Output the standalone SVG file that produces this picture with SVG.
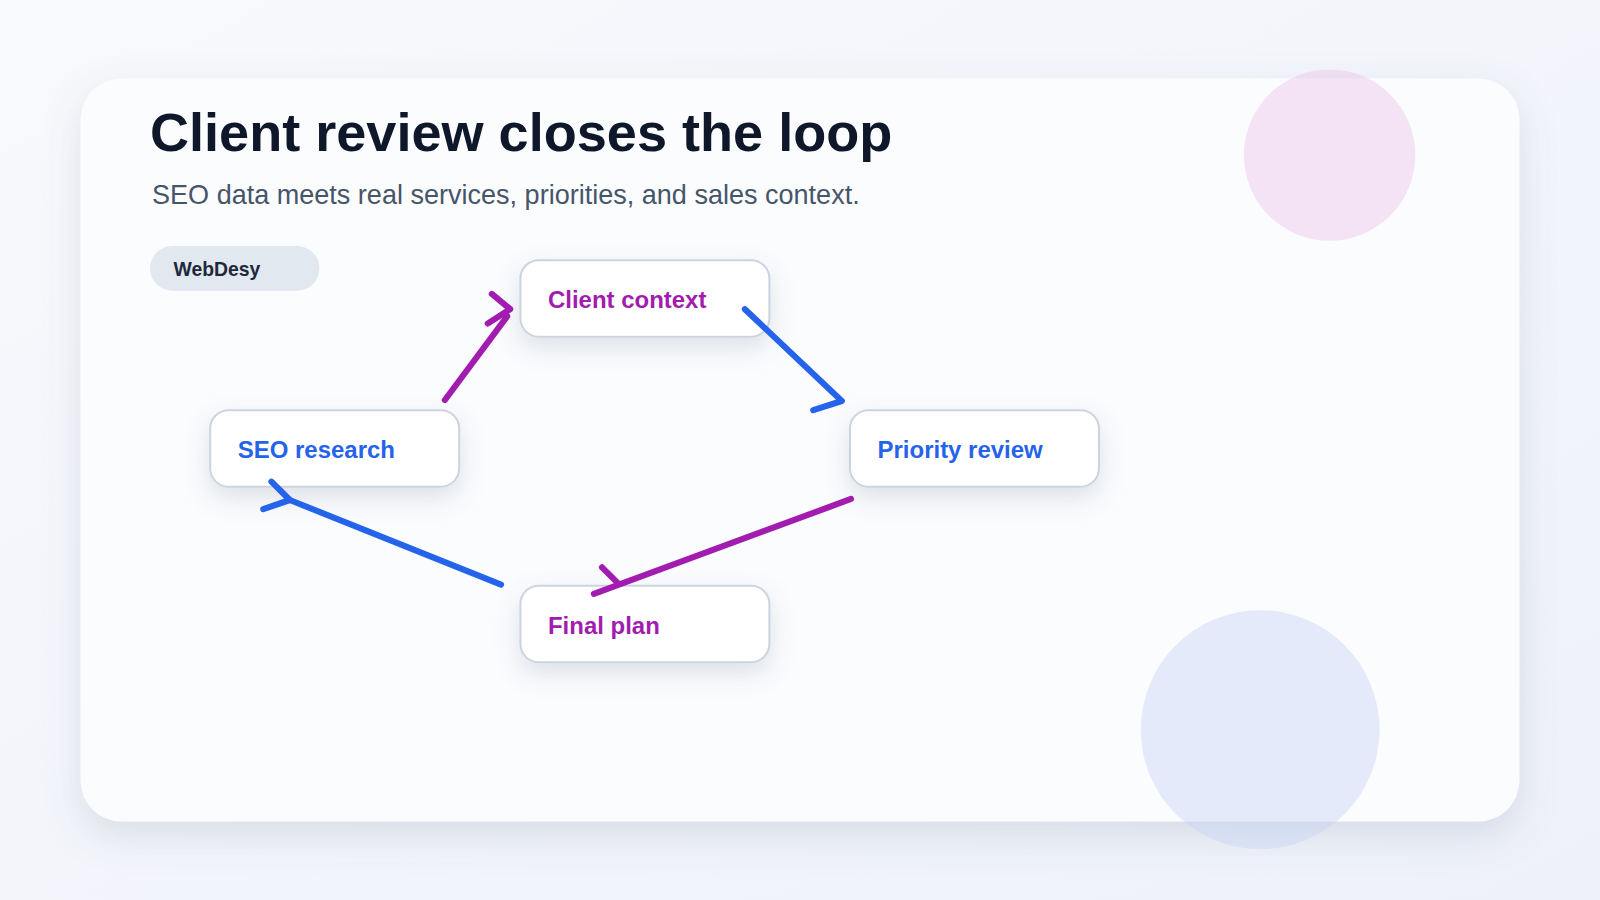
<svg xmlns="http://www.w3.org/2000/svg" width="1600" height="900" viewBox="0 0 1600 900">
<defs>
<linearGradient id="bg" x1="0" y1="0" x2="1" y2="1"><stop offset="0" stop-color="#f8f9fc"/><stop offset="1" stop-color="#eef1fa"/></linearGradient>
<filter id="sh" x="-10%" y="-10%" width="120%" height="130%"><feDropShadow dx="0" dy="14" stdDeviation="18" flood-color="#64748b" flood-opacity="0.18"/></filter>
<filter id="nsh" x="-30%" y="-40%" width="160%" height="200%"><feDropShadow dx="0" dy="10" stdDeviation="12" flood-color="#64748b" flood-opacity="0.2"/></filter>
<style>
.node rect{fill:#fff;stroke:#cbd5e1;stroke-width:2}
.lbl{font-family:"Liberation Sans",Arial,sans-serif;font-weight:bold;font-size:23.5px}
.p{fill:#a21caf}.b{fill:#2563eb}
.cp{stroke:#a21caf;stroke-width:6;fill:none;stroke-linecap:round;stroke-linejoin:round}
.cb{stroke:#2563eb;stroke-width:6;fill:none;stroke-linecap:round;stroke-linejoin:round}
</style>
</defs>
<rect width="1600" height="900" fill="url(#bg)"/>
<g transform="scale(1.0204)">
<rect x="79" y="77" width="1410" height="728" rx="40" fill="#fbfcfe" filter="url(#sh)"/>
<circle cx="1303" cy="152" r="84" fill="#e9c6e8" opacity="0.45"/>
<circle cx="1235" cy="715" r="117" fill="#c7d4f5" opacity="0.45"/>
<text x="147" y="148" font-family="Liberation Sans,Arial,sans-serif" font-weight="bold" font-size="53" fill="#0f172a">Client review closes the loop</text>
<text x="149" y="200" font-family="Liberation Sans,Arial,sans-serif" font-size="26.5" fill="#475569">SEO data meets real services, priorities, and sales context.</text>
<g id="badge"><rect x="147" y="241" width="166" height="44" rx="22" fill="#e2e8f0"/><text x="170" y="270" font-family="Liberation Sans,Arial,sans-serif" font-weight="bold" font-size="19" fill="#1e293b">WebDesy</text></g>
<g id="n-client" class="node"><rect x="510" y="255" width="244" height="75" rx="18" filter="url(#nsh)"/><text class="lbl p" x="537" y="302">Client context</text></g>
<g id="n-seo" class="node"><rect x="206" y="402" width="244" height="75" rx="18" filter="url(#nsh)"/><text class="lbl b" x="233" y="449">SEO research</text></g>
<g id="n-priority" class="node"><rect x="833" y="402" width="244" height="75" rx="18" filter="url(#nsh)"/><text class="lbl b" x="860" y="449">Priority review</text></g>
<g id="n-final" class="node"><rect x="510" y="574" width="244" height="75" rx="18" filter="url(#nsh)"/><text class="lbl p" x="537" y="621">Final plan</text></g>
<g id="connectors">
<path class="cp" d="M436 392 L497 310"/>
<path class="cp" d="M482 288 L500 303 L478 317"/>
<path class="cb" d="M730 303 L825 393 L797 402"/>
<path class="cb" d="M491 573 L284 490"/>
<path class="cb" d="M266 472 L284 490 L258 499"/>
<path class="cp" d="M834 489 L582 582"/>
<path class="cp" d="M590 556 L606 572"/>
</g>
</g>
</svg>
